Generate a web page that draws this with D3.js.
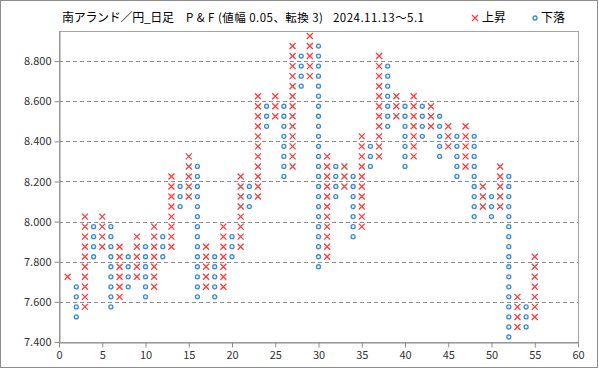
<!DOCTYPE html>
<html><head><meta charset="utf-8">
<script src="https://cdn.jsdelivr.net/npm/d3@7/dist/d3.min.js"></script>
<style>
body{margin:0;background:#fff;}
svg{display:block;font-family:"Noto Sans CJK JP","Noto Sans",sans-serif;}
</style></head>
<body><svg id="c" width="599" height="369"></svg>
<script>
// Point & Figure columns (box size 0.05): type, lowest box, highest box (box centre values)
const colTypes = ["X","O","X","O","X","O","X","O","X","O","X","O","X","O","X","O","X","O","X","O","X","O","X","O","X","O","X","O","X","O","X","O","X","O","X","O","X","O","X","O","X","O","X","O","X","O","X","O","X","O","X","O","X","O","X"];
const colLows  = [7.725,7.525,7.575,7.825,7.875,7.575,7.625,7.675,7.725,7.625,7.675,7.825,7.875,8.075,8.125,7.625,7.675,7.625,7.675,7.825,7.875,8.075,8.125,8.475,8.525,8.225,8.275,8.675,8.725,7.775,7.825,8.125,8.175,7.925,7.975,8.275,8.325,8.475,8.525,8.275,8.325,8.425,8.475,8.325,8.375,8.225,8.275,8.025,8.075,8.025,8.075,7.425,7.475,7.475,7.525];
const colHighs = [7.725,7.675,8.025,7.975,8.025,7.975,7.875,7.825,7.925,7.875,7.975,7.925,8.225,8.175,8.325,8.275,7.875,7.825,7.975,7.925,8.225,8.175,8.625,8.575,8.625,8.575,8.875,8.825,8.925,8.875,8.325,8.275,8.275,8.225,8.425,8.375,8.825,8.775,8.625,8.575,8.625,8.575,8.575,8.525,8.475,8.425,8.475,8.425,8.175,8.125,8.275,8.225,7.625,7.575,7.825];
const boxSize = 0.05;
const yTicks = [7.4,7.6,7.8,8.0,8.2,8.4,8.6,8.8];
const xTicks = [0,5,10,15,20,25,30,35,40,45,50,55,60];
const titleMain = "南アランド／円_日足";
const titleSub = "P & F (値幅 0.05、転換 3)";
const titleDate = "2024.11.13～5.1";
const legendUp = "上昇", legendDown = "下落";

const svg = d3.select("#c");
const L = 59, R = 578, T = 31, B = 342;
const x = d3.scaleLinear().domain([0,60]).range([L,R]);
const y = d3.scaleLinear().domain([7.4,8.95]).range([B,T]);
const red = "#ff3b3b", blue = "#3a8ad4", grey = "#8c8c8c";

// outer border
svg.append("rect").attr("x",0.5).attr("y",0.5).attr("width",597).attr("height",367)
  .attr("fill","#fff").attr("stroke",grey);

// plot border
svg.append("rect").attr("x",L+0.5).attr("y",T+0.5).attr("width",R-L).attr("height",B-T)
  .attr("fill","none").attr("stroke","#a6a6a6");

// gridlines
svg.append("g").selectAll("line").data(yTicks.filter(v=>v>7.45)).join("line")
  .attr("x1",L).attr("x2",R).attr("y1",d=>Math.round(y(d))+0.5).attr("y2",d=>Math.round(y(d))+0.5)
  .attr("stroke",grey).attr("stroke-dasharray","4,3");

// axes
const yAxis = svg.append("g").attr("transform",`translate(${L+0.5},0)`)
  .call(d3.axisLeft(y).tickValues(yTicks).tickFormat(d3.format(".3f")).tickSize(5).tickSizeOuter(0));
const xAxis = svg.append("g").attr("transform",`translate(0,${B+0.5})`)
  .call(d3.axisBottom(x).tickValues(xTicks).tickSize(5).tickSizeOuter(0));
[yAxis,xAxis].forEach(g=>{
  g.select(".domain").attr("stroke",grey);
  g.selectAll(".tick line").attr("stroke",grey);
  g.selectAll(".tick text").attr("fill","#333").style("font-size","11px")
   .style("font-family",'"Noto Sans CJK JP","Noto Sans",sans-serif');
});
yAxis.selectAll(".tick text").attr("x",-8);
xAxis.selectAll(".tick text").attr("y",9);

// expand columns to boxes
const boxes = [];
colTypes.forEach((t,i)=>{
  const n = Math.round((colHighs[i]-colLows[i])/boxSize);
  for(let k=0;k<=n;k++) boxes.push({col:i+1,type:t,v:colLows[i]+k*boxSize});
});

function drawX(g,cx,cy){
  const s=3;
  g.append("path").attr("d",`M${cx-s},${cy-s}L${cx+s},${cy+s}M${cx-s},${cy+s}L${cx+s},${cy-s}`)
   .attr("stroke",red).attr("stroke-width",1.3).attr("fill","none");
}
function drawO(g,cx,cy){
  g.append("circle").attr("cx",cx).attr("cy",cy).attr("r",2)
   .attr("fill","#eef5fc").attr("stroke",blue).attr("stroke-width",1.3);
}
const mg = svg.append("g");
boxes.forEach(b=>{
  const cx = x(b.col), cy = y(b.v);
  if(b.type==="X") drawX(mg,cx,cy); else drawO(mg,cx,cy);
});

// title
const tg = svg.append("g").style("font-size","12px").attr("fill","#000");
tg.append("text").attr("x",62).attr("y",22).attr("textLength",112).attr("lengthAdjust","spacing").text(titleMain);
tg.append("text").attr("x",186).attr("y",22).style("font-size","11.5px")
  .attr("textLength",137).attr("lengthAdjust","spacing").text(titleSub);
tg.append("text").attr("x",333).attr("y",22).style("font-size","11.5px")
  .attr("textLength",91).attr("lengthAdjust","spacing").text(titleDate);

// legend
drawX(svg,475,18);
svg.append("text").attr("x",482).attr("y",22).style("font-size","12px").text(legendUp);
drawO(svg,535,18);
svg.append("text").attr("x",541).attr("y",22).style("font-size","12px").text(legendDown);
</script>
</body></html>
